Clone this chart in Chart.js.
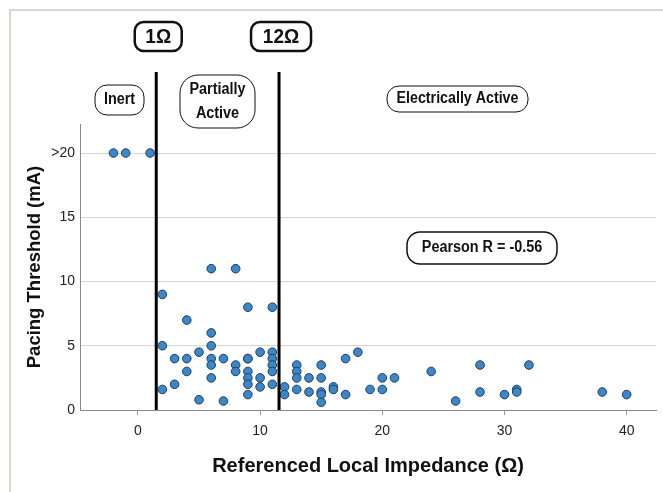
<!DOCTYPE html>
<html>
<head>
<meta charset="utf-8">
<script src="https://cdn.jsdelivr.net/npm/chart.js@4"></script>
<style>
  html, body { margin: 0; padding: 0; background: #fff; }
</style>
</head>
<body>
<canvas id="myChart" width="663" height="492"></canvas>
<script>
// referenced local impedance (ohm) and pacing threshold (mA), one entry per lesion
const impedance = [
    -2, -1, 1,
    2, 2, 2,
    3, 3,
    4, 4, 4,
    5, 5,
    6, 6, 6, 6, 6, 6,
    7, 7,
    8, 8, 8,
    9, 9, 9, 9, 9, 9, 9,
    10, 10, 10,
    11, 11, 11, 11, 11, 11,
    12, 12,
    13, 13, 13, 13,
    14, 14,
    15, 15, 15, 15, 15,
    16, 16,
    17, 17,
    18, 19, 20, 20, 21, 24, 26,
    28, 28, 30, 31, 31, 32, 38, 40
];
const threshold = [
    20, 20, 20,
    9, 5, 1.6,
    4, 2,
    7, 4, 3,
    4.5, 0.8,
    11, 6, 5, 4, 3.5, 2.5,
    4, 0.7,
    11, 3.5, 3,
    8, 4, 4, 3, 2.5, 2, 1.2,
    4.5, 2.5, 1.8,
    8, 4.5, 4, 3.5, 3, 2,
    1.8, 1.2,
    3.5, 3, 2.5, 1.6,
    2.5, 1.4,
    3.5, 2.5, 1.4, 1.2, 0.6,
    1.8, 1.6,
    4, 1.2,
    4.5, 1.6, 2.5, 1.6, 2.5, 3, 0.7,
    3.5, 1.4, 1.2, 1.6, 1.4, 3.5, 1.4, 1.2
];
const xTickValues = [0, 10, 20, 30, 40];
const yTickValues = [0, 5, 10, 15, 20];
const yTickLabels = ['0', '5', '10', '15', '>20'];
const cutoffs = [1.5, 11.55];
const cutoffLabels = ['1Ω', '12Ω'];
const pearsonText = 'Pearson R = -0.56';

const points = impedance.map((x, i) => ({ x: x, y: threshold[i] }));

function box(c, x1, y1, x2, y2, r, lw) {
    c.beginPath();
    c.roundRect(x1, y1, x2 - x1, y2 - y1, r);
    c.fillStyle = '#fff';
    c.fill();
    c.lineWidth = lw;
    c.strokeStyle = '#111';
    c.stroke();
}

// narrow text (the original uses a condensed font)
function label(c, t, x, y, sx) {
    c.save();
    c.translate(x, y);
    c.scale(sx, 1);
    c.fillStyle = '#111';
    c.fillText(t, 0, 0);
    c.restore();
}

const decor = {
    id: 'decor',
    beforeDraw(chart) {
        const c = chart.ctx;
        c.save();
        c.fillStyle = '#fff';
        c.fillRect(0, 0, chart.width, chart.height);
        c.strokeStyle = '#cbcbc4';
        c.lineWidth = 1.5;
        c.strokeRect(10, 10, chart.width + 20, chart.height + 20);
        c.restore();
    },
    afterDraw(chart) {
        const c = chart.ctx;
        const xs = chart.scales.x;
        const area = chart.chartArea;
        c.save();
        // cutoff lines
        c.strokeStyle = '#000';
        c.lineWidth = 3;
        cutoffs.forEach(v => {
            const px = xs.getPixelForValue(v);
            c.beginPath();
            c.moveTo(px, 72);
            c.lineTo(px, area.bottom);
            c.stroke();
        });
        c.textAlign = 'center';
        c.textBaseline = 'middle';
        // cutoff labels
        c.font = 'bold 20px "Liberation Sans", Arial, sans-serif';
        const widths = [47, 60];
        cutoffLabels.forEach((t, i) => {
            const px = xs.getPixelForValue(cutoffs[i]);
            const cx = px + 2;
            box(c, cx - widths[i] / 2, 22, cx + widths[i] / 2, 51, 9, 2.5);
            label(c, t, cx, 37, 0.95);
        });
        // region labels
        c.font = 'bold 16px "Liberation Sans", Arial, sans-serif';
        box(c, 95, 85, 144, 115, 12, 1);
        label(c, 'Inert', 119.5, 100, 0.9);
        box(c, 180, 75, 255, 128, 18, 1);
        label(c, 'Partially', 217.5, 90, 0.9);
        label(c, 'Active', 217.5, 114, 0.9);
        box(c, 387, 86, 528, 112, 12, 1);
        label(c, 'Electrically Active', 457.5, 99, 0.89);
        box(c, 407, 232, 557, 264, 13, 1.5);
        label(c, pearsonText, 482, 248, 0.9);
        c.restore();
    }
};

new Chart(document.getElementById('myChart'), {
    type: 'scatter',
    data: {
        datasets: [{
            data: points,
            backgroundColor: '#3b87c9',
            borderColor: '#1f3f5c',
            borderWidth: 1,
            pointRadius: 4.3,
            pointHoverRadius: 4.3
        }]
    },
    options: {
        responsive: false,
        animation: false,
        layout: { padding: { left: 0, top: 124, right: 7, bottom: 0 } },
        plugins: {
            legend: { display: false },
            tooltip: { enabled: false }
        },
        scales: {
            x: {
                type: 'linear',
                min: -4.74,
                max: 42.4,
                afterBuildTicks: axis => { axis.ticks = xTickValues.map(v => ({ value: v })); },
                afterFit: scale => { scale.height = 82; },
                grid: { drawOnChartArea: false, tickLength: 5, color: '#999' },
                border: { color: '#8a8a8a', width: 1 },
                ticks: {
                    color: '#222',
                    font: { family: '"Liberation Sans", Arial, sans-serif', size: 14 },
                    padding: 8,
                    maxRotation: 0
                },
                title: {
                    display: true,
                    text: 'Referenced Local Impedance (Ω)',
                    color: '#111',
                    font: { family: '"Liberation Sans", Arial, sans-serif', size: 20, weight: 'bold' },
                    padding: { top: 0, bottom: 14 }
                }
            },
            y: {
                type: 'linear',
                min: 0,
                max: 22.26,
                afterBuildTicks: axis => { axis.ticks = yTickValues.map(v => ({ value: v })); },
                afterFit: scale => { scale.width = 80; },
                grid: {
                    drawTicks: false,
                    color: ctx => ctx.tick && ctx.tick.value === 0 ? 'rgba(0,0,0,0)' : '#d4d4d4'
                },
                border: { color: '#8a8a8a', width: 1 },
                ticks: {
                    color: '#222',
                    font: { family: '"Liberation Sans", Arial, sans-serif', size: 14 },
                    padding: 5,
                    callback: v => yTickLabels[yTickValues.indexOf(v)]
                },
                title: {
                    display: true,
                    text: 'Pacing Threshold (mA)',
                    color: '#111',
                    font: { family: '"Liberation Sans", Arial, sans-serif', size: 18.5, weight: 'bold' },
                    padding: { top: 24, bottom: 0 }
                }
            }
        }
    },
    plugins: [decor]
});
</script>
</body>
</html>
